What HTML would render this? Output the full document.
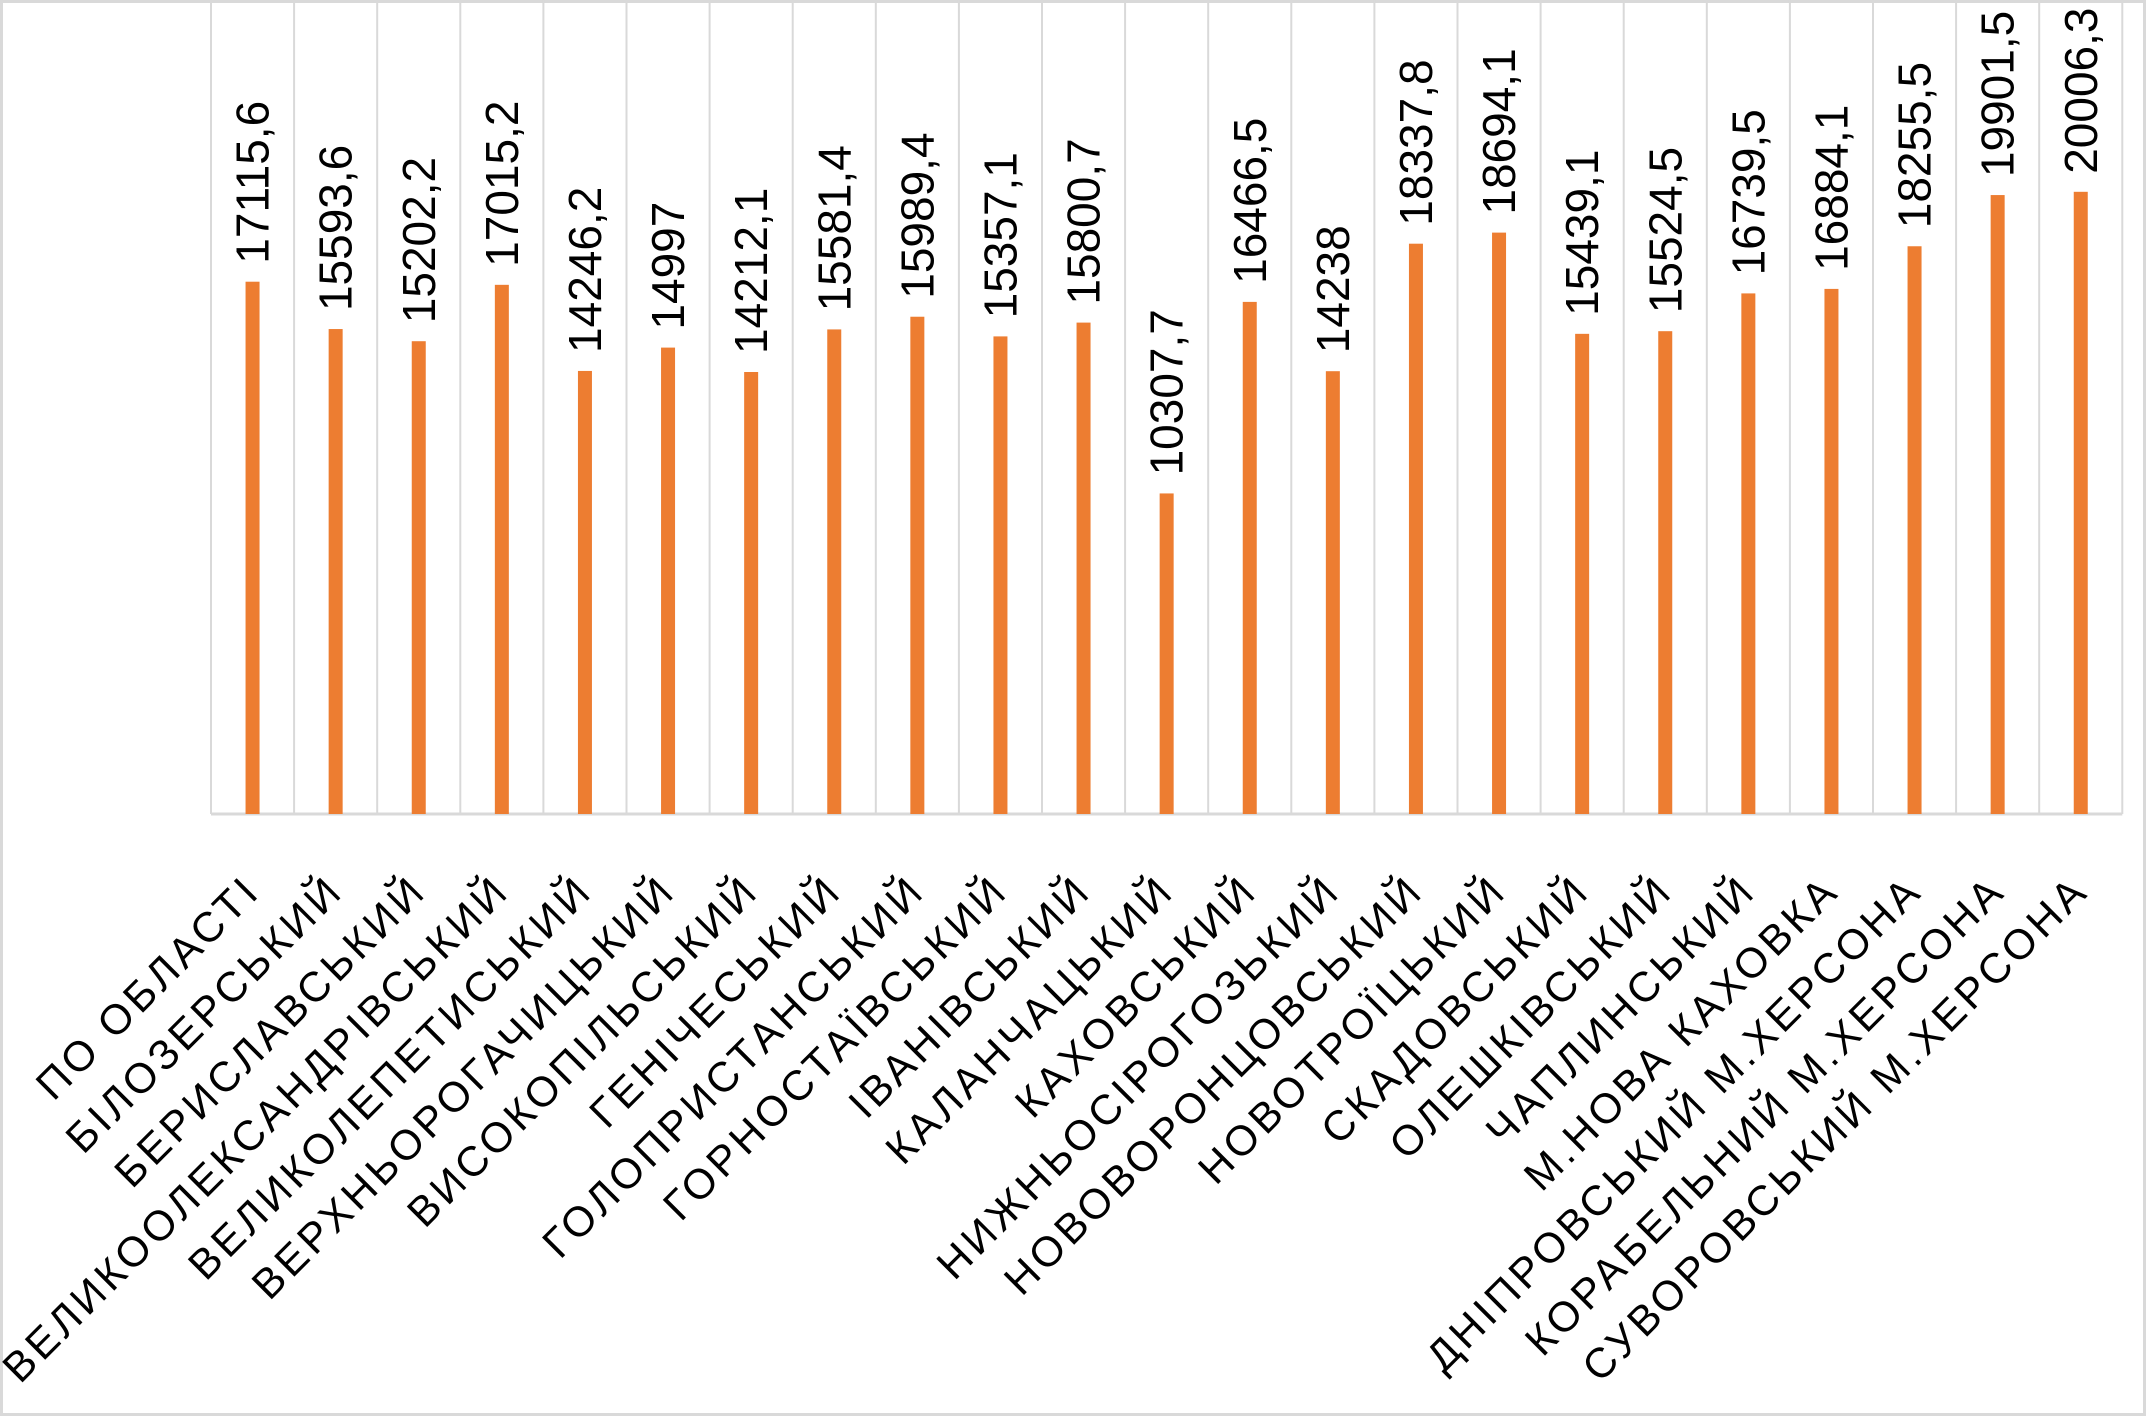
<!DOCTYPE html>
<html><head><meta charset="utf-8"><style>
html,body{margin:0;padding:0;background:#fff}
svg{display:block}
text{font-family:"Liberation Sans","DejaVu Sans",sans-serif;fill:#000}
</style></head><body>
<svg width="2146" height="1416" viewBox="0 0 2146 1416" xmlns="http://www.w3.org/2000/svg">
<rect x="1.5" y="1.5" width="2143" height="1413" fill="#fff" stroke="#d9d9d9" stroke-width="3"/>
<g id="g"></g>
</svg>
<script>
var names=["ПО ОБЛАСТІ","БІЛОЗЕРСЬКИЙ","БЕРИСЛАВСЬКИЙ","ВЕЛИКООЛЕКСАНДРІВСЬКИЙ","ВЕЛИКОЛЕПЕТИСЬКИЙ","ВЕРХНЬОРОГАЧИЦЬКИЙ","ВИСОКОПІЛЬСЬКИЙ","ГЕНІЧЕСЬКИЙ","ГОЛОПРИСТАНСЬКИЙ","ГОРНОСТАЇВСЬКИЙ","ІВАНІВСЬКИЙ","КАЛАНЧАЦЬКИЙ","КАХОВСЬКИЙ","НИЖНЬОСІРОГОЗЬКИЙ","НОВОВОРОНЦОВСЬКИЙ","НОВОТРОЇЦЬКИЙ","СКАДОВСЬКИЙ","ОЛЕШКІВСЬКИЙ","ЧАПЛИНСЬКИЙ","М.НОВА КАХОВКА","ДНІПРОВСЬКИЙ М.ХЕРСОНА","КОРАБЕЛЬНИЙ М.ХЕРСОНА","СУВОРОВСЬКИЙ М.ХЕРСОНА"];
var vals=["17115,6","15593,6","15202,2","17015,2","14246,2","14997","14212,1","15581,4","15989,4","15357,1","15800,7","10307,7","16466,5","14238","18337,8","18694,1","15439,1","15524,5","16739,5","16884,1","18255,5","19901,5","20006,3"];
var x0=211,step=83.1,base=814,top=30,k=0.0311;
var s='';
for(var i=0;i<=23;i++){var x=x0+i*step;s+='<line x1="'+x+'" y1="'+top+'" x2="'+x+'" y2="'+base+'" stroke="#d9d9d9" stroke-width="2"/>';}
s+='<line x1="'+x0+'" y1="'+base+'" x2="'+(x0+23*step)+'" y2="'+base+'" stroke="#d9d9d9" stroke-width="3"/>';
for(var i=0;i<23;i++){
 var c=x0+(i+0.5)*step; var v=parseFloat(vals[i].replace(',','.')); var h=v*k; var y=base-h;
 s+='<rect x="'+(c-7)+'" y="'+y+'" width="14" height="'+h+'" fill="#ed7d31"/>';
 s+='<text transform="translate('+(c+16)+','+(y-18)+') rotate(-90)" font-size="46">'+vals[i]+'</text>';
 s+='<text transform="translate('+(c+10)+',893) rotate(-45)" font-size="42" letter-spacing="4" text-anchor="end">'+names[i]+'</text>';
}
document.getElementById('g').innerHTML=s;
</script>
</body></html>
